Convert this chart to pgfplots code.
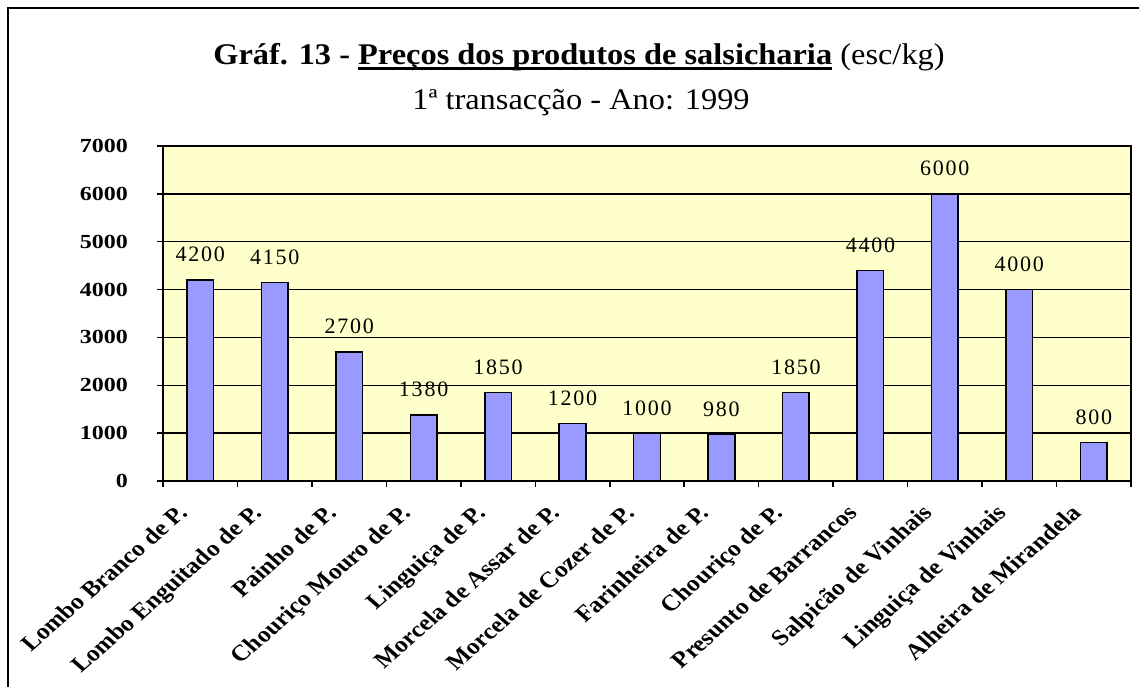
\documentclass[border=0pt]{standalone}
\usepackage{pgfplots}
\pgfplotsset{compat=1.18}
\usepackage{fontspec}
\setmainfont{Liberation Serif}
\newfontfamily\axfont[FakeStretch=1.2]{Liberation Serif}
\newfontfamily\catfont{Liberation Serif}
\newfontfamily\lblfont[LetterSpace=8]{Liberation Serif}
\newfontfamily\ttlfont[FakeStretch=1.08]{Liberation Serif}
\definecolor{barc}{HTML}{9999FF}
\definecolor{bgc}{HTML}{FFFFCC}
\newcommand\ul[1]{\setbox0\hbox{#1}\rlap{\rule[-5pt]{\wd0}{2.5pt}}\box0}
\begin{document}
\begin{tikzpicture}[x=1pt,y=1pt]
\useasboundingbox (0,0) rectangle (1139,687);
\draw[line width=2pt] (8,679) rectangle (1170,-30);
\node[anchor=base, inner sep=0pt, font=\ttlfont\fontsize{30}{36}\selectfont] at (579,622) {\textbf{Gráf. 13 - \ul{Preços dos produtos de salsicharia}} (esc/kg)};
\node[anchor=base, inner sep=0pt, font=\ttlfont\fontsize{30}{36}\selectfont] at (581,577) {1ª transacção - Ano: 1999};
\begin{axis}[
  at={(163pt,206pt)}, anchor=south west,
  width=968pt, height=335pt, scale only axis,
  xmin=-0.5, xmax=12.5, ymin=0, ymax=7000,
  axis background/.style={fill=bgc},
  axis line style={line width=1.8pt},
  ybar, bar width=26.6pt, bar shift=0pt,
  ytick={0,1000,...,7000},
  ymajorgrids, grid style={black, line width=1.3pt},
  xtick={0,...,12},
  xticklabels={Lombo Branco de P., Lombo Enguitado de P., Painho de P., Chouriço Mouro de P., Linguiça de P., Morcela de Assar de P., Morcela de Cozer de P., Farinheira de P., Chouriço de P., Presunto de Barrancos, Salpicão de Vinhais, Linguiça de Vinhais, Alheira de Mirandela},
  minor xtick={-0.5,0.5,...,12.5},
  tick pos=left, tick align=outside,
  major tick length=6pt, minor tick length=6pt,
  major x tick style={draw=none},
  tick style={black, line width=1.5pt},
  scaled y ticks=false,
  /pgf/number format/1000 sep={},
  /pgf/number format/assume math mode=true,
  xticklabel style={xshift=-24pt, yshift=-16pt, xscale=1.14, rotate=45, anchor=north east, inner sep=0pt, font=\catfont\bfseries\fontsize{22.5}{27}\selectfont},
  yticklabel style={anchor=east, inner sep=0pt, font=\axfont\bfseries\fontsize{20}{24}\selectfont, xshift=-29pt},
  nodes near coords,
  every node near coord/.append style={font=\lblfont\fontsize{22}{26}\selectfont, anchor=base, inner sep=0pt, yshift=18pt, text=black},
]
\addplot[fill=barc, draw=black, line width=1.5pt] coordinates {
(0,4200) (1,4150) (2,2700) (3,1380) (4,1850) (5,1200) (6,1000) (7,980) (8,1850) (9,4400) (10,6000) (11,4000) (12,800)};
\end{axis}
\end{tikzpicture}
\end{document}
